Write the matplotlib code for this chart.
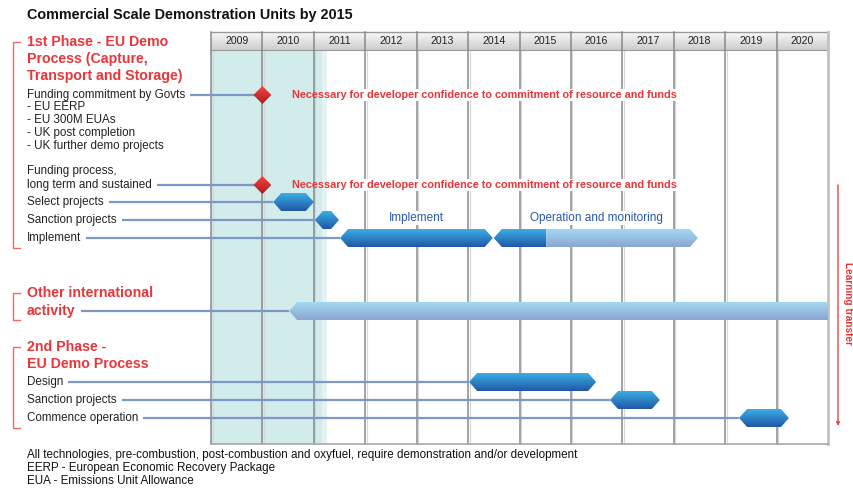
import numpy as np
import matplotlib
matplotlib.use("Agg")
import matplotlib.pyplot as plt
from matplotlib.patches import Polygon, Rectangle
from matplotlib.colors import LinearSegmentedColormap

# ---------------- data ----------------
years = list(range(2009, 2021))
title = "Commercial Scale Demonstration Units by 2015"

milestone_labels = ["Funding commitment by Govts", "long term and sustained"]
milestone_years = [2010.0, 2010.0]
milestone_note = "Necessary for developer confidence to commitment of resource and funds"

task_labels = ["Select projects", "Sanction projects", "Implement",
               "activity", "Design", "Sanction projects", "Commence operation"]
task_starts = [2010.21, 2011.02, 2011.51, 2010.52, 2014.02, 2016.76, 2019.27]
task_ends = [2011.0, 2011.49, 2014.48, 2021.0, 2016.49, 2017.73, 2020.24]
task_light = [False, False, False, True, False, False, False]

op_dark = (2014.50, 2015.52)
op_light = (2015.52, 2018.47)
bar_notes = ["Implement", "Operation and monitoring"]
note_years = [2013.0, 2016.5]

shade_until = 2011.16
shade_light_until = 2011.25

footnotes = ["All technologies, pre-combustion, post-combustion and oxyfuel, require demonstration and/or development",
             "EERP - European Economic Recovery Package",
             "EUA - Emissions Unit Allowance"]

# ---------------- layout ----------------
W, H = 854, 492
GX0, GX1, HY, GY0, GY1 = 211, 828, 32, 50, 444
RED = "#e8363a"
FONT = "Liberation Sans"
plt.rcParams['font.family'] = [FONT, 'DejaVu Sans']
FS_LAB = 8.35
FS_HEAD = 10.2

fig = plt.figure(figsize=(W / 100, H / 100), dpi=100)
ov = fig.add_axes([0, 0, 1, 1])
ov.set_xlim(0, W); ov.set_ylim(H, 0); ov.axis('off')
ax = fig.add_axes([GX0 / W, 1 - GY1 / H, (GX1 - GX0) / W, (GY1 - HY) / H])
ax.set_xlim(2009, 2021); ax.set_ylim(GY1, HY); ax.axis('off')

PPY = (GX1 - GX0) / 12.0
def px2yr(p):
    return 2009 + (p - GX0) / PPY

def grad_fill(a, verts, c_top, c_bot, z=3):
    poly = Polygon(verts, closed=True, facecolor='none', edgecolor='none')
    a.add_patch(poly)
    xs = [v[0] for v in verts]; ys = [v[1] for v in verts]
    cmap = LinearSegmentedColormap.from_list('g', [c_top, c_bot])
    im = a.imshow(np.linspace(0, 1, 64).reshape(-1, 1), cmap=cmap,
                  extent=(min(xs), max(xs), max(ys), min(ys)), origin='upper',
                  aspect='auto', zorder=z, interpolation='bilinear')
    im.set_clip_path(poly)

D = 8 / PPY
HH = 9
def hexv(s, e, y, lp=True, rp=True):
    v = []
    if lp:
        v += [(s, y), (s + D, y - HH)]
    else:
        v += [(s, y - HH)]
    if rp:
        v += [(e - D, y - HH), (e, y), (e - D, y + HH)]
    else:
        v += [(e, y - HH), (e, y + HH)]
    if lp:
        v += [(s + D, y + HH)]
    else:
        v += [(s, y + HH)]
    return v

DARK = ("#3aaee4", "#2157a6")
LIGHT = ("#a3d9f2", "#8ba6d0")

# shading
ax.add_patch(Rectangle((2009, GY0), shade_until - 2009, GY1 - GY0, color="#d2ebeb", zorder=0, lw=0))
ax.add_patch(Rectangle((shade_until, GY0), shade_light_until - shade_until, GY1 - GY0, color="#e4f3f1", zorder=0, lw=0))

# header
for y in years:
    grad_fill(ax, [(y, HY), (y + 1, HY), (y + 1, GY0), (y, GY0)], "#f8f8f8", "#cdcdcd", z=1)
    ax.text(y + 0.5, (HY + GY0) / 2 + 0.5, str(y), ha='center', va='center', fontsize=7.6, color='#222222', zorder=5)
ax.plot([2009, 2021], [HY, HY], color='#9a9a9a', lw=1, zorder=2, clip_on=False)
ax.plot([2009, 2021], [GY0, GY0], color='#9a9a9a', lw=0.8, zorder=2, clip_on=False)
for y in years:
    ax.plot([y, y], [HY, GY1], color='#858a8f', lw=1.1, zorder=2, clip_on=False)
    ax.plot([y + 1.5 / PPY, y + 1.5 / PPY], [GY0, GY1], color='#d6d6d6', lw=0.8, zorder=1.5, clip_on=False)
ax.plot([2021, 2021], [HY, GY1], color='#c2c2c2', lw=2, zorder=2, clip_on=False)
ax.plot([2009, 2021], [GY1, GY1], color='#a8a8a8', lw=1.2, zorder=2, clip_on=False)

# title
ov.text(27, 15, title, fontsize=10.4, fontweight='bold', color='#111111', va='center', ha='left')

# headings
heads = [("1st Phase - EU Demo", 42), ("Process (Capture,", 59), ("Transport and Storage)", 76),
         ("Other international", 293), ("2nd Phase -", 347), ("EU Demo Process", 364)]
for t, y in heads:
    ov.text(27, y, t, fontsize=FS_HEAD, fontweight='bold', color=RED, va='center', ha='left')
act = ov.text(27, 311, "activity", fontsize=FS_HEAD, fontweight='bold', color=RED, va='center', ha='left')

# brackets
for y0, y1 in [(42, 248), (293, 320), (347, 428)]:
    ov.plot([20, 13, 13, 20], [y0, y0, y1, y1], color='#f06a6a', lw=1)

# plain labels
plain = [("- EU EERP", 107), ("- EU 300M EUAs", 120), ("- UK post completion", 133),
         ("- UK further demo projects", 146), ("Funding process,", 171)]
for t, y in plain:
    ov.text(27, y, t, fontsize=FS_LAB, color='#222222', va='center', ha='left')

renderer = fig.canvas.get_renderer()
LINE_C = "#7b98c9"

def connector(text_artist, y, x_end_yr):
    bb = text_artist.get_window_extent(renderer)
    x0 = bb.x1 + 5
    ax.plot([px2yr(x0), x_end_yr], [y, y], color=LINE_C, lw=1.6, zorder=2.5, clip_on=False, solid_capstyle='butt')

def label(text, y):
    return ov.text(27, y, text, fontsize=FS_LAB, color='#222222', va='center', ha='left')

def white_behind(t):
    bb = t.get_window_extent(renderer)
    inv = ax.transData.inverted()
    (x0, y0), (x1, y1) = inv.transform([(bb.x0 - 2, bb.y0 - 1), (bb.x1 + 2, bb.y1 + 1)])
    x0 = max(x0, shade_light_until)
    ax.add_patch(Rectangle((x0, min(y0, y1)), x1 - x0, abs(y1 - y0), facecolor='white', edgecolor='none', zorder=2.3))

milestone_rows = [95, 185]
for lab, yr, y in zip(milestone_labels, milestone_years, milestone_rows):
    connector(label(lab, y), y, yr)
    dv = [(yr - 9 / PPY, y), (yr, y - 9), (yr + 9 / PPY, y), (yr, y + 9)]
    grad_fill(ax, dv, "#f04545", "#b01a1a", z=4)
    nt = ax.text(px2yr(292), y, milestone_note, fontsize=7.8, fontweight='bold', color=RED, va='center', ha='left', zorder=5)
    white_behind(nt)

task_rows = [202, 220, 238, 311, 382, 400, 418]
for lab, s, e, lt, y in zip(task_labels, task_starts, task_ends, task_light, task_rows):
    if lab == "activity":
        connector(act, y, s)
        grad_fill(ax, hexv(s, e, y, True, False), *LIGHT)
    else:
        connector(label(lab, y), y, s)
        grad_fill(ax, hexv(s, e, y), *(LIGHT if lt else DARK))

# operation bar
grad_fill(ax, hexv(op_dark[0], op_dark[1], 238, True, False), *DARK)
grad_fill(ax, hexv(op_light[0], op_light[1], 238, False, True), *LIGHT)
for t, x in zip(bar_notes, note_years):
    bt = ax.text(x, 218, t, fontsize=8.5, color='#2b5aa8', ha='center', va='center', zorder=5)
    white_behind(bt)

# learning transfer
ov.annotate('', xy=(838, 426), xytext=(838, 185),
            arrowprops=dict(arrowstyle='-|>', color='#e84545', lw=1, mutation_scale=5, shrinkA=0, shrinkB=0))
ov.text(848, 303, "Learning transfer", rotation=-90, fontsize=7.3, fontweight='bold', color=RED, ha='center', va='center')

# footnotes
for i, t in enumerate(footnotes):
    ov.text(27, 455 + 13 * i, t, fontsize=FS_LAB, color='#111111', va='center', ha='left')

ax.set_xlim(2009, 2021); ax.set_ylim(GY1, HY)
fig.savefig("out.png", dpi=100)
